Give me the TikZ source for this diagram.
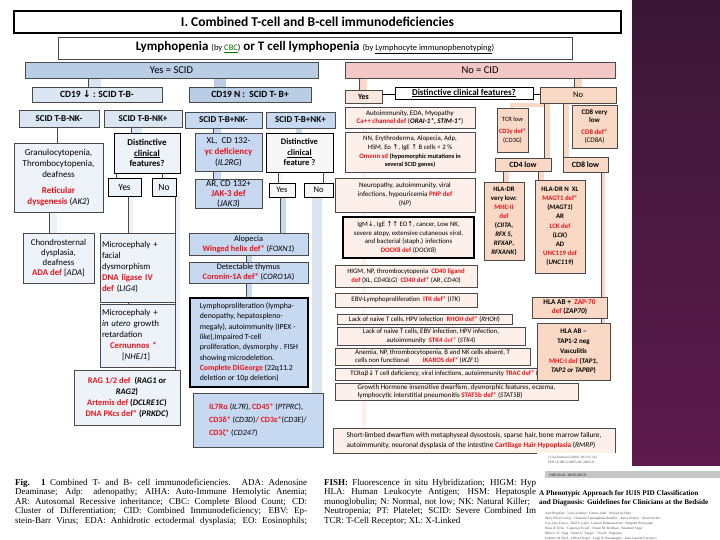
\documentclass[tikz,border=0pt]{standalone}
\usepackage{fontspec}
\setmainfont{Carlito}
\newfontfamily\sym{DejaVu Sans}
\newfontfamily\tnr{Liberation Serif}
\definecolor{bA}{HTML}{B9CDE5}
\definecolor{bM}{HTML}{C6D9F1}
\definecolor{bB}{HTML}{DCE6F2}
\definecolor{bC}{HTML}{EEF3F9}
\definecolor{pk}{HTML}{F4C7C7}
\definecolor{pc}{HTML}{F9D9C5}
\definecolor{pl}{HTML}{FDF0EA}
\definecolor{rd}{HTML}{E8141B}
\definecolor{bd}{HTML}{4A4A4A}
\definecolor{purT}{HTML}{3A1735}
\definecolor{purB}{HTML}{5E1B4E}
\newcommand\R[1]{\textcolor{rd}{\textbf{#1}}}
\newcommand\I[1]{\textit{#1}}
\newcommand\ua{{\sym ↑}}
\newcommand\da{{\sym ↓}}
\newcommand\fs[2]{\fontsize{#1}{#2}\selectfont}
\newcommand\smb[1]{{\bfseries\fs{6.3}{8.6}#1}}
\newcommand\bx[7]{%
  \pgfmathsetmacro\bxW{#4-#2}\pgfmathsetmacro\bxH{#5-#3}%
  \pgfmathsetmacro\bxX{(#2+#4)/2}\pgfmathsetmacro\bxY{(#3+#5)/2}%
  \node[box,#6,minimum width=\bxW pt,minimum height=\bxH pt] (#1) at (\bxX,\bxY) {#7};}
\pgfdeclarelayer{bg}\pgfdeclarelayer{pp}\pgfsetlayers{bg,pp,main}
\begin{document}
\begin{tikzpicture}[x=1pt,y=-1pt,
  box/.style={draw=bd,line width=0.5pt,inner sep=1pt,outer sep=0pt,align=center},
  heavy/.style={draw=black,line width=1.2pt},
  pipe/.style={draw=bd,line width=0.4pt,double=#1},
  ln/.style={draw=black,line width=0.6pt},
  captxt/.style={anchor=base west,inner sep=0pt,font=\tnr\fs{9}{10}},
  tinytxt/.style={anchor=base west,inner sep=0pt,text=gray!60!black,font=\tnr\fs{3.4}{4}},
]
\begin{pgfonlayer}{bg}
\fill[white] (0,0) rectangle (720,540);
\shade[top color=purT,bottom color=purB] (632,0) rectangle (720,466);
\end{pgfonlayer}
\useasboundingbox (0,0) rectangle (720,540);

% ---- header
\bx{title}{14}{11}{621}{33}{heavy,line width=2.2pt,fill=white,font=\bfseries\fs{13.5}{15}}{I. Combined T-cell and B-cell immunodeficiencies}
\bx{lymph}{58}{37}{572}{59}{fill=white,font=\fs{13}{14}}{\textbf{Lymphopenia} {\fs{8.5}{9}(by \textcolor{green!45!black}{\underline{CBC}})} \textbf{or T cell lymphopenia} {\fs{8.5}{9}(by \underline{Lymphocyte immunophenotyping})}}
\bx{yesscid}{25}{62}{318}{78}{fill=bA,font=\fs{10.5}{12}}{Yes = SCID}
\bx{nocid}{345}{62}{615}{78}{fill=pk,font=\fs{10.5}{12}}{No = CID}

% ---- SCID left
\bx{cd19a}{32}{87}{162}{102}{fill=bB,font=\bfseries\fs{9.5}{11}}{CD19 \da\ : SCID T-B-}
\bx{cd19b}{189}{87}{311}{102}{fill=bA,font=\bfseries\fs{9.5}{11}}{CD19 N :\ \ SCID T- B+}
\bx{nkm1}{19}{110}{99}{127}{fill=bB,font=\bfseries\fs{9}{11}}{SCID T-B-NK-}
\bx{nkp1}{104}{110}{182}{127}{fill=bB,font=\bfseries\fs{9}{11}}{SCID T-B-NK+}
\bx{nkm2}{185}{112}{262}{128}{fill=bM,font=\bfseries\fs{9}{11}}{SCID T-B+NK-}
\bx{nkp2}{266}{112}{335}{128}{fill=bM,font=\bfseries\fs{9}{11}}{SCID T-B+NK+}
\bx{gran}{14}{143}{103}{212}{fill=bC,font=\fs{9}{11}}{Granulocytopenia,\\Thrombocytopenia,\\deafness\\[5pt]\R{Reticular}\\\R{dysgenesis} (\I{AK2})}
\bx{dist1}{114}{133}{180}{173}{heavy,line width=0.9pt,fill=bC,font=\bfseries\fs{9}{10.5}}{Distinctive\\\underline{clinical}\\features?}
\bx{yes1}{108}{178}{141}{196}{fill=bC,draw=black,font=\fs{9.5}{11}}{Yes}
\bx{no1}{152}{178}{176}{196}{fill=bC,draw=black,font=\fs{9.5}{11}}{No}
\bx{xl}{195}{133}{262}{171}{fill=bM,font=\fs{9}{11}}{XL,\ \ CD 132-\\\R{γc deficiency}\\(\I{IL2RG})}
\bx{ar}{195}{180}{262}{208}{fill=bM,font=\fs{9}{10}}{AR, CD 132+\\\R{JAK-3 def}\\(\I{JAK3})}
\bx{dist2}{266}{133}{333}{172}{heavy,line width=0.9pt,fill=gray!6,font=\bfseries\fs{8.5}{10.5}}{Distinctive\\\underline{clinical}\\feature ?}
\bx{yes2}{269}{183}{295}{197}{fill=gray!6,draw=black,font=\fs{8.5}{10}}{Yes}
\bx{no2}{304}{183}{333}{197}{fill=gray!6,draw=black,font=\fs{8.5}{10}}{No}
\bx{chon}{23}{233}{94}{283}{fill=bC,font=\fs{8.8}{10}}{Chondrosternal\\dysplasia,\\deafness\\\R{ADA def} [\I{ADA}]}
\bx{mic1}{100}{233}{175}{302}{fill=bC,text width=71pt,align=left,font=\fs{8.8}{11}}{Microcephaly +\\facial\\dysmorphism\\\R{DNA ligase IV}\\\R{def} (\I{LIG4})}
\bx{mic2}{100}{304}{175}{367}{fill=bC,text width=71pt,align=left,font=\fs{8.8}{11}}{Microcephaly +\\\I{in utero} growth\\retardation\\\hspace*{8pt}\R{Cernunnos *}\\\hspace*{20pt}[\I{NHEJ1}]}
\bx{rag}{74}{370}{180}{425}{fill=bC,font=\bfseries\fs{8.5}{11}}{\R{RAG 1/2 def}\ \ (\I{RAG1} or\\\I{RAG2})\\\R{Artemis def} (\I{DCLRE1C})\\\R{DNA PKcs def*} (\I{PRKDC})}
\bx{alo}{189}{233}{308}{255}{fill=bM,font=\fs{8.3}{10}}{Alopecia\\\R{Winged helix def*} (\I{FOXN1})}
\bx{thy}{189}{262}{308}{283}{fill=bM,font=\fs{8.3}{10}}{Detectable thymus\\\R{Coronin-1A def*} (\I{CORO1A})}
\bx{lym}{190}{298}{308}{387}{fill=bM,heavy,line width=1.1pt,align=left,font=\fs{7.8}{10.3}}{Lymphoproliferation (lympha-\\denopathy, hepatospleno-\\megaly), autoimmunity (IPEX -\\\I{like}),Impaired T-cell\\proliferation, dysmorphy . FISH\\showing microdeletion.\\\R{Complete DiGeorge} (22q11.2\\deletion or 10p deletion)}
\bx{il7}{193}{393}{323}{447}{fill=bM,align=left,font=\fs{8}{13}}{\R{IL7Rα} (\I{IL7R}), \R{CD45*} (\I{PTPRC}),\\\R{CD3δ*} (\I{CD3D})\R{/ CD3ε*}(\I{CD3E})/\\\R{CD3ζ*} (\I{CD247})}

% ---- CID right
\bx{yesP}{345}{90}{382}{103}{fill=pc!60,font=\bfseries\fs{8}{9}}{Yes}
\bx{distP}{395}{87}{533}{99}{fill=white,draw=black,line width=0.8pt,font=\bfseries\fs{9}{10}}{\underline{Distinctive clinical features?}}
\bx{noP}{540}{87}{616}{103}{fill=pc,font=\fs{8.5}{10}}{No}
\bx{auto}{345}{107}{475}{128}{fill=pl,font=\fs{7}{8.5}}{Autoimmunity, EDA, Myopathy\\\R{Ca++ channel def} (\textbf{\I{ORAI-1*, STIM-1*}})}
\bx{nn}{345}{132}{475}{172}{fill=pl,font=\fs{6.8}{8.6}}{NN, Erythroderma, Alopecia, Adp,\\HSM, Eo \ua, IgE \ua\ B cells < 2 \%\\\R{Omenn sd} \smb{(hypomorphic mutations in}\\\smb{several SCID genes)}}
\bx{neuro}{335}{178}{475}{212}{fill=pl,font=\fs{7}{9}}{Neuropathy, autoimmunity, viral\\infections, hypouricemia \R{PNP def}\\(\I{NP})}
\bx{igm}{343}{217}{474}{258}{fill=pl,heavy,line width=1.1pt,font=\fs{6.8}{8.8}}{IgM\da, IgE \ua\ua\ EO\ua, cancer, Low NK,\\severe atopy, extensive cutaneous viral,\\and bacterial (staph.) infections\\\R{DOCK8 def} (\I{DOCK8})}
\bx{higm}{335}{265}{477}{287}{fill=pl,font=\fs{6.8}{8.6}}{HIGM, NP, thrombocytopenia\ \ \R{CD40 ligand}\\\R{def} (XL, \I{CD40LG})\ \ \R{CD40 def*} (AR, \I{CD40})}
\bx{ebv}{335}{293}{477}{307}{fill=pl,font=\fs{6.8}{8}}{EBV-Lymphoproliferation\ \ \R{ITK def*} (\I{ITK})}
\bx{rhoh}{337}{314}{512}{324}{fill=pl,font=\fs{6.8}{8}}{Lack of naive T cells, HPV infection\ \ \R{RHOH def*} (\I{RHOH})}
\bx{stk}{337}{327}{525}{345}{fill=pl,font=\fs{6.8}{8.6}}{Lack of naive T cells, EBV infection, HPV infection,\\autoimmunity\ \ \R{STK4} \textcolor{rd}{def*} (\I{STK4})}
\bx{ika}{335}{348}{530}{365}{fill=pl,align=left,font=\fs{6.8}{8.6}}{Anemia, NP, thrombocytopenia, B and NK cells absent, T\\cells non functional\hspace{14pt}\R{IKAROS def*} (\I{IKZF1})}
\bx{trac}{335}{368}{570}{380}{fill=pl,font=\fs{6.8}{8}}{TCRαβ\da\,T cell deficiency, viral infections, autoimmunity \R{TRAC def*} (\I{TRAC})}
\bx{stat}{335}{383}{578}{400}{fill=pl,align=left,font=\fs{7}{8.6}}{Growth Hormone insensitive dwarfism, dysmorphic features, eczema,\\lymphocytic interstitial pneumonitis \R{STAT5b def*} (\I{STAT5B})}
\bx{chh}{333}{428}{615}{453}{fill=pl,align=left,font=\fs{7.3}{10}}{Short-limbed dwarfism with metaphyseal dysostosis, sparse hair, bone marrow failure,\\autoimmunity, neuronal dysplasia of the intestine \R{Cartilage Hair Hypoplasia} (\I{RMRP})}

\bx{tcr}{497}{108}{528}{152}{fill=pc,font=\fs{6.5}{9}}{TCR low\\[3pt]\R{CD3γ def*}\\(\I{CD3G})}
\bx{cd8v}{572}{105}{617}{148}{fill=pc,font=\fs{7}{8.5}}{\textbf{CD8 very}\\\textbf{low}\\[3pt]\R{CD8 def*}\\(\I{CD8A})}
\bx{cd4}{495}{158}{551}{171}{fill=pc,font=\bfseries\fs{8}{9}}{CD4 low}
\bx{cd8l}{563}{157}{608}{172}{fill=pc,font=\bfseries\fs{8}{9}}{CD8 low}
\bx{hladr}{484}{182}{524}{260}{fill=pc,font=\bfseries\fs{6.8}{9}}{HLA-DR\\very low:\\\R{MHC-II}\\\R{def}\\(\I{CIITA},\\\I{RFX 5},\\\I{RFXAP},\\\I{RFXANK})}
\bx{hlan}{535}{180}{585}{273}{fill=pc,font=\bfseries\fs{6.8}{9.2}}{HLA-DR N\ \ XL\\\R{MAGT1 def*}\\(\I{MAGT1})\\AR\\\R{LCK def}\\(\I{LCK})\\AD\\\R{UNC119 def}\\(\I{UNC119})}
\bx{zap}{532}{297}{607}{318}{fill=pc,font=\bfseries\fs{7.3}{9}}{HLA AB +\ \ \R{ZAP-70}\\\R{def} (\I{ZAP70})}
\bx{tap}{537}{323}{610}{380}{fill=pc,font=\bfseries\fs{7}{9.8}}{HLA AB –\\TAP1-2 neg\\Vasculitis\\\R{MHC-I def} (\I{TAP1},\\\I{TAP2 or TAPBP})}

% ---- connectors
\begin{pgfonlayer}{pp}
\draw[pipe=bB,double distance=12pt] (yesscid.south -| 94.5,0) -- (cd19a.north -| 94.5,0);
\draw[pipe=bA,double distance=12pt] (yesscid.south -| 220,0) -- (cd19b.north -| 220,0);
\draw[ln,draw=bd] (nkm1.south -| 57,0) -- (gran.north -| 57,0);
\draw[pipe=bB,double distance=10pt] (nkp1.south -| 136.5,0) -- (dist1.north -| 136.5,0);
\draw[pipe=bC,double distance=3pt] (dist1.south -| 118,0) -- (yes1.north -| 118,0);
\draw[pipe=bC,double distance=3pt] (dist1.south -| 164,0) -- (no1.north -| 164,0);
\draw[pipe=bC,double distance=7pt] (gran.south -| 53,0) -- (chon.north -| 53,0);
\draw[pipe=bC,double distance=4pt] (yes1.south -| 130.5,0) -- (mic1.north -| 130.5,0);
\draw[pipe=bC,double distance=4pt] (mic1.south -| 130.5,0) -- (mic2.north -| 130.5,0);
\draw[pipe=bC,double distance=4pt] (no1.south -| 177.5,0) -- (rag.north -| 177.5,0);
\draw[pipe=bM,double distance=7pt] (nkm2.south -| 217,0) -- (xl.north -| 217,0);
\draw[pipe=bM,double distance=7pt] (xl.south -| 217,0) -- (ar.north -| 217,0);
\draw[pipe=bM,double distance=6pt] (nkp2.south -| 299,0) -- (dist2.north -| 299,0);
\draw[pipe=gray!6,double distance=3pt] (dist2.south -| 280,0) -- (yes2.north -| 280,0);
\draw[pipe=gray!6,double distance=3pt] (dist2.south -| 325,0) -- (no2.north -| 325,0);
\draw[pipe=bM,double distance=5pt] (yes2.south -| 283,0) -- (alo.north -| 283,0);
\draw[pipe=bB,double distance=10pt] (no2.south -| 317,0) -- (il7.north -| 317,0);
\draw[pipe=bM,double distance=5pt] (alo.south -| 249,0) -- (thy.north -| 249,0);
\draw[pipe=bM,double distance=5pt] (thy.south -| 249,0) -- (lym.north -| 249,0);
% pink
\draw[pipe=pc,double distance=7pt] (nocid.south -| 363,0) -- (yesP.north -| 363,0);
\draw[pipe=pc,double distance=7pt] (nocid.south -| 578,0) -- (noP.north -| 578,0);
\draw[pipe=pl,double distance=4pt] (yesP.south -| 364,0) -- (chh.north -| 364,0);
\draw[pipe=pc,double distance=4pt] (noP.south -| 544,0) |- (512,105) -- (tcr.north -| 512,0);
\draw[pipe=pc,double distance=5pt] (noP.south -| 547,0) -- (cd4.north -| 547,0);
\draw[pipe=pc,double distance=5pt] (noP.south -| 566,0) -- (cd8l.north -| 566,0);
\draw[pipe=pc,double distance=5pt] (cd4.south -| 506,0) -- (hladr.north -| 506,0);
\draw[pipe=pc,double distance=5pt] (cd4.south -| 541,0) -- (hlan.north -| 541,0);
\draw[pipe=pc,double distance=3pt] (cd8l.south -| 603,0) -- (zap.north -| 603,0);
\draw[pipe=pc,double distance=3pt] (zap.south -| 603,0) -- (tap.north -| 603,0);
\end{pgfonlayer}
\draw[ln] (yesP.east |- 0,94) -- (distP.west |- 0,94);
\draw[ln] (distP.east |- 0,94) -- (noP.west |- 0,94);

% ---- caption
\node[captxt] (c1) at (15,485) {\makebox[292pt][s]{\textbf{Fig. 1}\enspace Combined T- and B- cell immunodeficiencies. ADA: Adenosine}};
\node[captxt] (c2) at (15,494.5) {\makebox[292pt][s]{Deaminase; Adp: adenopathy; AIHA: Auto-Immune Hemolytic Anemia;}};
\node[captxt] (c3) at (15,504) {\makebox[292pt][s]{AR: Autosomal Recessive inheritance; CBC: Complete Blood Count; CD:}};
\node[captxt] (c4) at (15,513.5) {\makebox[292pt][s]{Cluster of Differentiation; CID: Combined Immunodeficiency; EBV: Ep-}};
\node[captxt] (c5) at (15,523) {\makebox[292pt][s]{stein-Barr Virus; EDA: Anhidrotic ectodermal dysplasia; EO: Eosinophils;}};
\node[captxt] (d1) at (324,485) {\makebox[212pt][s]{\textbf{FISH:} Fluorescence in situ Hybridization; HIGM: Hyp}};
\node[captxt] (d2) at (324,494.5) {\makebox[212pt][s]{HLA: Human Leukocyte Antigen; HSM: Hepatosple}};
\node[captxt] (d3) at (324,504) {\makebox[206pt][s]{munoglobulin; N: Normal, not low; NK: Natural Killer;}};
\node[captxt] (d4) at (324,513.5) {\makebox[212pt][s]{Neutropenia; PT: Platelet; SCID: Severe Combined Im}};
\node[captxt] (d5) at (324,523) {TCR: T-Cell Receptor; XL: X-Linked};

% ---- thumbnail
\fill[white] (537,466) rectangle (720,540);
\fill[white] (537,453) rectangle (632,466);
\node[tinytxt] (t1) at (548,458) {J Clin Immunol (2018) 38:129--143};
\node[tinytxt] (t2) at (548,463) {DOI 10.1007/s10875-017-0465-8};
\fill[gray!45] (545,471) rectangle (720,478);
\node[tinytxt,text=gray!20!black,font=\tnr\fs{3.6}{4}] (t3) at (549,476) {ORIGINAL RESEARCH};
\node[anchor=base west,inner sep=0pt,font=\tnr\bfseries\fs{7.2}{8}] (tt1) at (539,495) {A Phenotypic Approach for IUIS PID Classification};
\node[anchor=base west,inner sep=0pt,font=\tnr\bfseries\fs{7.2}{8}] (tt2) at (539,504) {and Diagnosis: Guidelines for Clinicians at the Bedside};
\node[tinytxt] (a1) at (545,514) {Aziz Bousfiha · Leila Jeddane · Fatima Ailal · Waleed Al Herz ·};
\node[tinytxt] (a2) at (545,519) {Mary Ellen Conley · Charlotte Cunningham-Rundles · Amos Etzioni · Alain Fischer ·};
\node[tinytxt] (a3) at (545,524) {Jose Luis Franco · Raif S. Geha · Lennart Hammarström · Shigeaki Nonoyama ·};
\node[tinytxt] (a4) at (545,529) {Hans D. Ochs · Capucine Picard · Chaim M. Roifman · Reinhard Seger ·};
\node[tinytxt] (a5) at (545,534) {Mimi L. K. Tang · Stuart G. Tangye · Troy R. Torgerson ·};
\node[tinytxt] (a6) at (545,539) {Jennifer M. Puck · Helen Chapel · Luigi D. Notarangelo · Jean-Laurent Casanova};
\end{tikzpicture}
\end{document}
